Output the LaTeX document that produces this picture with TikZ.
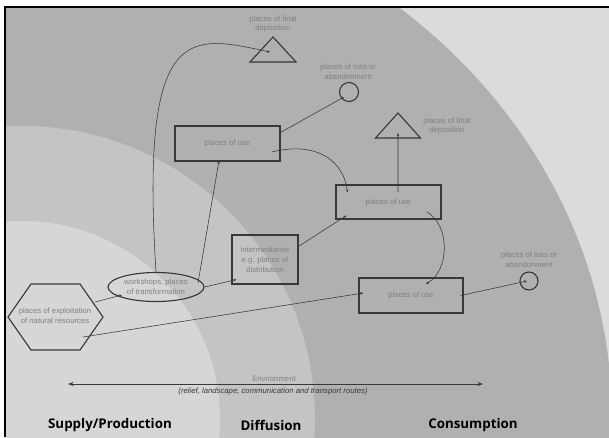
\documentclass[tikz,border=0pt]{standalone}
\usepackage{fontspec}
\setmainfont{Liberation Sans}
\newfontfamily\zonefont{Open Sans}
\usetikzlibrary{arrows.meta,calc,shapes.geometric}
\definecolor{zoneout}{gray}{0.86}
\definecolor{zonecons}{gray}{0.69}
\definecolor{zonediff}{gray}{0.77}
\definecolor{zonesupp}{gray}{0.84}
\definecolor{inkline}{gray}{0.22}
\definecolor{inktext}{gray}{0.5}

\begin{document}
\begin{tikzpicture}[x=0.025cm, y=-0.025cm,
    place/.style={draw=inkline, line width=0.8pt, text=inktext, font=\fontsize{5.5}{7}\selectfont, align=center, inner sep=0pt},
    usebox/.style={place, rectangle, minimum width=2.625cm, minimum height=0.875cm},
    shapeline/.style={draw=inkline, line width=0.8pt},
    flow/.style={draw=inkline, line width=0.4pt, -{Stealth[length=2.2pt,width=1.8pt]}},
    note/.style={text=inktext, font=\fontsize{5.5}{7}\selectfont, align=center, inner sep=0pt},
    zone/.style={font=\zonefont\bfseries\fontsize{9.5}{11}\selectfont}]

  \useasboundingbox (0,0) rectangle (609,437);
  \fill[white] (0,0) rectangle (609,437);
  \begin{scope}
    \clip (5,7) rectangle (609,437);
    \fill[zoneout] (5,7) rectangle (609,437);
    \fill[zonecons] (22,419) ellipse [x radius=590, y radius=535];
    \fill[zonediff] (22,419) circle [radius=293];
    \fill[zonesupp] (22,419) circle [radius=198];
  \end{scope}
  \draw[line width=1.4pt] (5,437) -- (5,7) -- (609,7);

  \node[usebox] (use1) at (227.5,143.5) {places of use};
  \node[usebox, minimum height=0.85cm] (use2) at (388.5,202) {places of use};
  \node[usebox, minimum width=2.6cm] (use3) at (411,295.5) {places of use};
  \node[place, minimum width=1.65cm, minimum height=1.225cm] (distrib) at (265,259.5) {intermediaries\\e.g. places of\\distribution};
  \node[place, ellipse, minimum width=2.4cm, minimum height=0.725cm] (works) at (156,287) {workshops, places\\of transformation};
  \node[place, circle, minimum size=0.475cm] (loss1) at (349,92) {};
  \node[place, circle, minimum size=0.45cm] (loss2) at (529,281) {};

  \node[note] (res) at (55,316) {places of exploitation\\of natural resources};
  \draw[shapeline] (res) ++(-47,1) -- ++(23,-33) -- ++(49,0) -- ++(23,33) -- ++(-23,33) -- ++(-49,0) -- cycle;

  \coordinate (depo1) at (273,52);
  \draw[shapeline] (depo1) ++(0,-15) -- ++(23,25) -- ++(-46,0) -- cycle;
  \coordinate (depo2) at (398,133);
  \draw[shapeline] (depo2) ++(0,-20) -- ++(22.5,25) -- ++(-45,0) -- cycle;

  \node[note] (depo1lab) at (273,24) {places of final\\deposition};
  \node[note] (loss1lab) at (348,72) {places of loss or\\abandonment};
  \node[note] (depo2lab) at (447,126) {places of final\\deposition};
  \node[note] (loss2lab) at (529,260) {places of loss or\\abandonment};

  \draw[flow] ($(res)+(40,-14)$) -- ($(works)+(-34,8)$);
  \draw[flow] ($(res)+(28,21)$) -- ($(use3.west)+(5,-2.5)$);
  \draw[flow] ($(works)+(42,-4)$) -- ($(use1.south)+(-8.5,-1)$);
  \draw[flow] (works.east) -- ($(distrib.south west)+(5,-5)$);
  \draw[flow] (works.north) .. controls +(-16,-252.5) and +(-80,-17) .. ($(depo1)+(-3,0)$);
  \draw[flow] ($(use1.east)+(-9,8.5)$) .. controls +(49,-12) and +(-3,-28) .. ($(use2.north west)+(12,8)$);
  \draw[flow] ($(use1.north east)+(0,7)$) -- ($(loss1)+(-5,5)$);
  \draw[flow] ($(distrib.east)+(-1,-12.5)$) -- ($(use2.south west)+(11,-4)$);
  \draw[flow] ($(use2)+(9.5,-10)$) -- (depo2);
  \draw[flow] ($(use2)+(38.5,10)$) .. controls +(23,13) and +(24,-14) .. ($(use3)+(15,-11.5)$);
  \draw[flow] ($(use3.east)+(-3,0)$) -- ($(loss2)+(-2,0)$);

  \coordinate (envL) at (68,384);
  \coordinate (envR) at (483,384);
  \draw[draw=inkline, line width=0.6pt, {Stealth[length=4pt,width=3pt]}-{Stealth[length=4pt,width=3pt]}] (envL) -- (envR);
  \node[note] (envlab) at (274,379) {Environment};
  \node[note, text=inkline, font=\itshape\fontsize{5.5}{7}\selectfont] (envsub) at (273,391.5) {(relief, landscape, communication and transport routes)};

  \node[zone] (supply) at (110,425) {Supply/Production};
  \node[zone] (diffusion) at (271,425) {Diffusion};
  \node[zone] (consumption) at (473,425) {Consumption};
\end{tikzpicture}
\end{document}
